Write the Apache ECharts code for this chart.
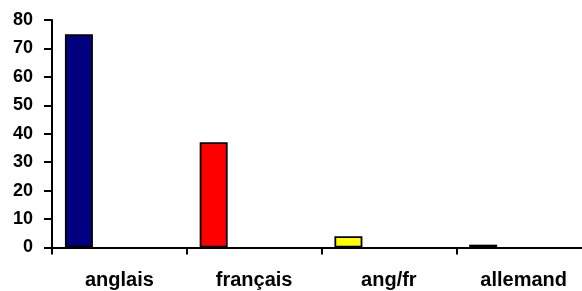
<!DOCTYPE html>
<html>
<head>
<meta charset="utf-8">
<script src="https://cdn.jsdelivr.net/npm/echarts@6/dist/echarts.min.js"></script>
<style>
html,body{margin:0;padding:0;background:#fff;}
#chart{width:582px;height:291px;}
</style>
</head>
<body>
<div id="chart"></div>
<script>
const categories = ['anglais', 'français', 'ang/fr', 'allemand'];
const values = [75, 37, 4, 1];
const barColors = ['#000080', '#FF0000', '#FFFF00', '#008000'];
const yTicks = [0, 10, 20, 30, 40, 50, 60, 70, 80];

const chart = echarts.init(document.getElementById('chart'), null, {renderer: 'canvas'});
const font = '"Liberation Sans", Arial, sans-serif';
chart.setOption({
  animation: false,
  backgroundColor: '#ffffff',
  grid: {left: 52, top: 20, width: 539, bottom: 43.5, outerBoundsMode: 'none', containLabel: false},
  xAxis: {
    type: 'category',
    data: categories,
    axisLine: {lineStyle: {color: '#000', width: 2}},
    axisTick: {show: true, length: 7, lineStyle: {color: '#000', width: 2}},
    axisLabel: {color: '#000', fontWeight: 'bold', fontSize: 20, fontFamily: font, margin: 23}
  },
  yAxis: {
    type: 'value',
    min: yTicks[0],
    max: yTicks[yTicks.length - 1],
    interval: 10,
    axisLine: {show: true, lineStyle: {color: '#000', width: 2}},
    axisTick: {show: true, length: 8, lineStyle: {color: '#000', width: 2}},
    splitLine: {show: false},
    axisLabel: {color: '#000', fontWeight: 'bold', fontSize: 18, fontFamily: font, margin: 19}
  },
  series: [
    {
      type: 'bar',
      barWidth: 28,
      barGap: '189%',
      data: values.map((v, i) => ({value: v, itemStyle: {color: barColors[i]}})),
      itemStyle: {borderColor: '#000', borderWidth: 1.8}
    },
    {
      type: 'bar',
      barWidth: 28,
      data: values.map(() => '-')
    }
  ]
});
</script>
</body>
</html>
